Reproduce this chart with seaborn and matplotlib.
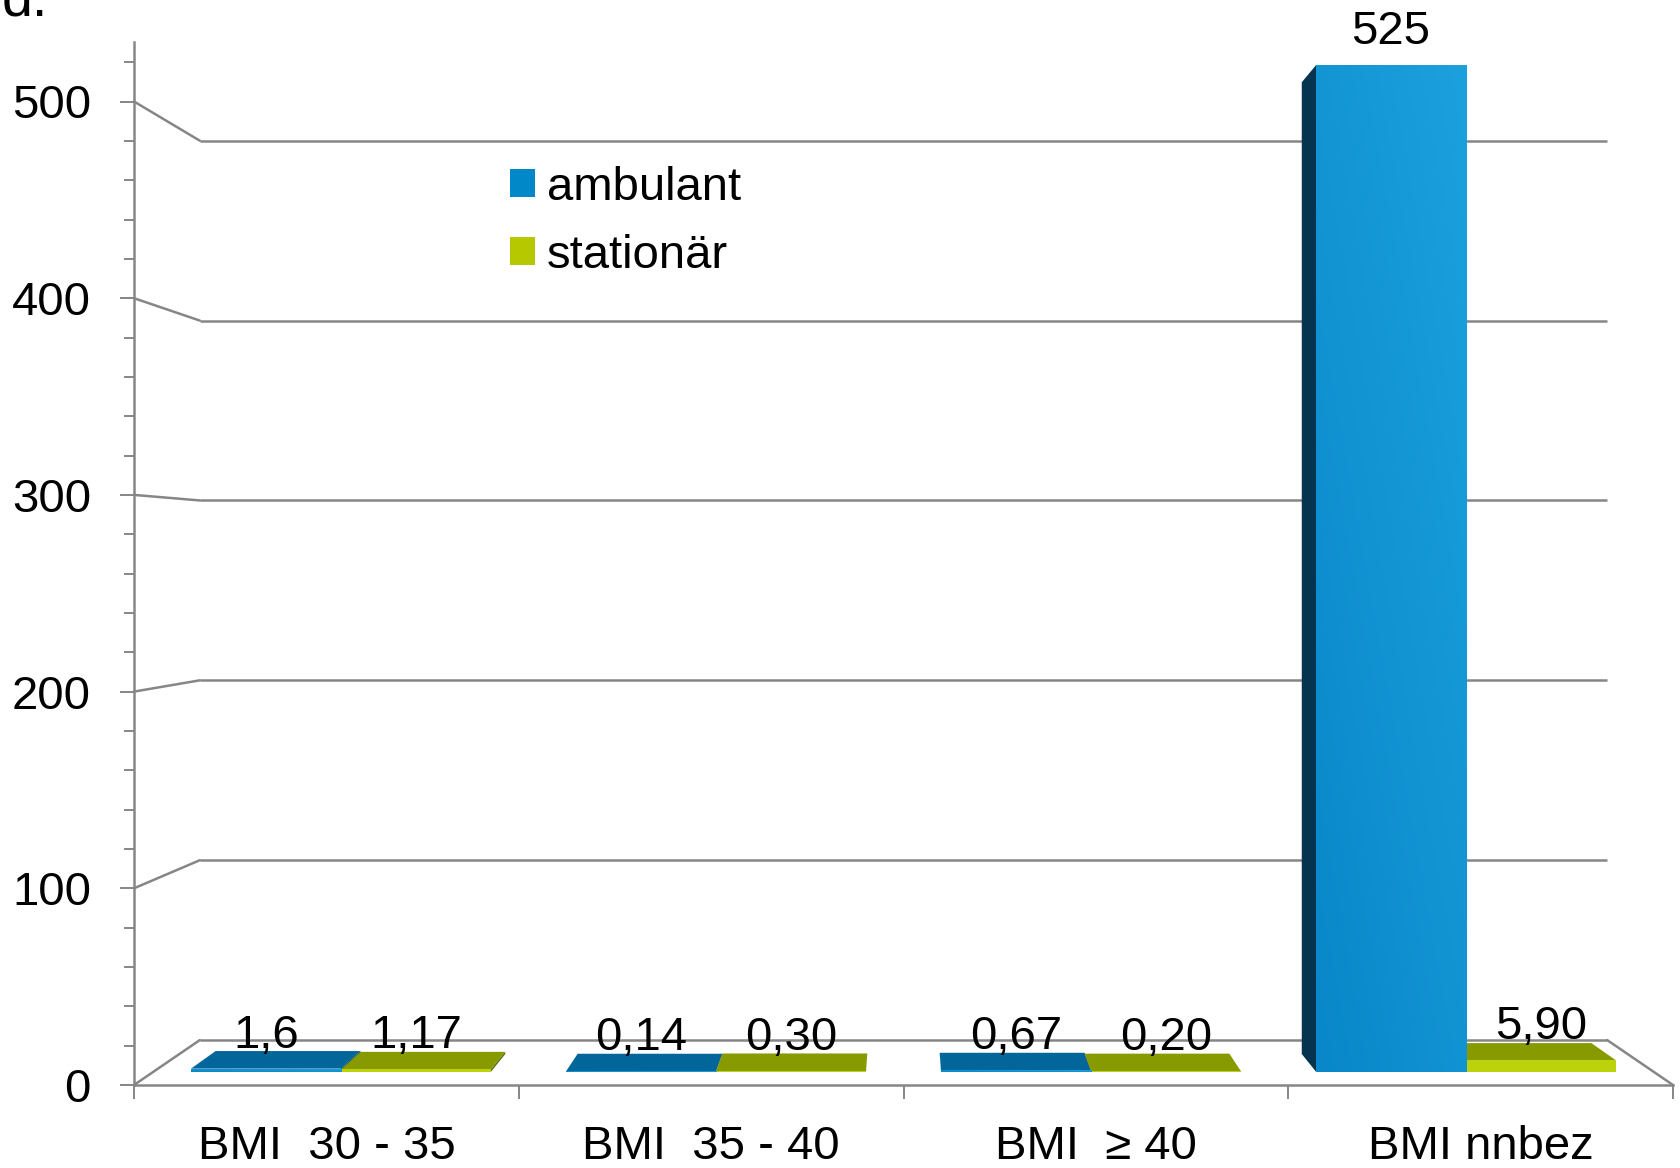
import matplotlib
matplotlib.use("Agg")
import numpy as np
import pandas as pd
import matplotlib.pyplot as plt
from matplotlib.patches import Polygon, Patch
from matplotlib.colors import LinearSegmentedColormap
from matplotlib.ticker import FixedLocator, MultipleLocator
import seaborn as sns

# ---- data -------------------------------------------------------------
categories = ["BMI  30 - 35", "BMI  35 - 40", "BMI  \u2265 40", "BMI nnbez"]
series = ["ambulant", "stationär"]
ambulant = [1.6, 0.14, 0.67, 525]
stationaer = [1.17, 0.30, 0.20, 5.90]
ambulant_text = ["1,6", "0,14", "0,67", "525"]
stationaer_text = ["1,17", "0,30", "0,20", "5,90"]
y_major = [0, 100, 200, 300, 400, 500]

# ---- style ------------------------------------------------------------
sns.set_theme(style="white")
plt.rcParams["font.family"] = ["Liberation Sans", "DejaVu Sans"]
plt.rcParams["text.color"] = "black"

FS = 34
GRID = "#868686"
LW = 1.8
front_colors = {"ambulant": "#1196d6", "stationär": "#bcd20a"}
top_colors = {"ambulant": "#02669a", "stationär": "#879a00"}
side_colors = {"ambulant": "#04344f", "stationär": "#55610a"}
legend_colors = ["#0088c8", "#b5c800"]

W, H = 1680, 1168
fig = plt.figure(figsize=(W / 100, H / 100), dpi=100)
fig.patch.set_facecolor("white")

# ---- front plane of the pseudo-3D chart box ----------------------------
x_lo, x_hi = -0.5, 3.5
y_top = 530
left_px, right_px, base_px, px_per_unit = 134, 1673, 1085, 1.967
ax = fig.add_axes([left_px / W, (H - base_px) / H,
                   (right_px - left_px) / W, y_top * px_per_unit / H])
ax.set_xlim(x_lo, x_hi)
ax.set_ylim(0, y_top)
ax.patch.set_alpha(0)

# vanishing point (data units) and scale at a given depth (0 front, 1 back wall)
vp = (1.5, 267.0)


def depth_scale(d):
    return 1 - 0.0855 * d


def project(x, y, s):
    return vp[0] + (x - vp[0]) * s, vp[1] + (y - vp[1]) * s


# back wall gridlines with their connectors to the value axis
s_wall = depth_scale(1.0)
for v in y_major:
    bx0, by0 = project(x_lo, v, s_wall)
    bx1, by1 = project(x_hi, v, s_wall)
    ax.plot([bx0, bx1], [by0, by1], color=GRID, lw=LW, zorder=1,
            solid_capstyle="butt")
    ax.plot([x_lo, bx0], [v, by0], color=GRID, lw=LW, zorder=1, clip_on=False)
# right edge of the floor
fx, fy = project(x_hi, 0, s_wall)
ax.plot([x_hi, fx], [0, fy], color=GRID, lw=LW, zorder=1, clip_on=False)

# axes styling
for side in ["top", "right"]:
    ax.spines[side].set_visible(False)
for side in ["left", "bottom"]:
    ax.spines[side].set_color(GRID)
    ax.spines[side].set_linewidth(LW)

ax.yaxis.set_major_locator(FixedLocator(y_major))
ax.yaxis.set_minor_locator(MultipleLocator(20))
ax.tick_params(axis="y", which="major", left=True, direction="out", length=10,
               width=1.4, color=GRID, pad=21, labelsize=FS, labelcolor="black")
ax.tick_params(axis="y", which="minor", left=True, direction="out", length=7,
               width=1.4, color=GRID)

ax.set_xticks([-0.5, 0.5, 1.5, 2.5, 3.5])
ax.set_xticklabels([])
ax.set_xticks([0, 1, 2, 3], minor=True)
ax.set_xticklabels(categories, minor=True)
ax.tick_params(axis="x", which="major", bottom=True, direction="out", length=10,
               width=1.4, color=GRID)
ax.tick_params(axis="x", which="minor", bottom=False, length=0, pad=29,
               labelsize=FS, labelcolor="black")

# ---- bars: drawn on an axes that is the front plane scaled to bar depth --
s_front = depth_scale(0.296)
s_back = depth_scale(0.69)
pos = ax.get_position()
vx = pos.x0 + (vp[0] - x_lo) / (x_hi - x_lo) * pos.width
vy = pos.y0 + vp[1] / y_top * pos.height
ax_bar = fig.add_axes([vx + (pos.x0 - vx) * s_front, vy + (pos.y0 - vy) * s_front,
                       pos.width * s_front, pos.height * s_front])

df = pd.DataFrame({
    "category": categories * 2,
    "series": [series[0]] * len(categories) + [series[1]] * len(categories),
    "value": ambulant + stationaer,
})
sns.barplot(data=df, x="category", y="value", hue="series", order=categories,
            hue_order=series, palette=front_colors, width=0.8, saturation=1,
            legend=False, errorbar=None, ax=ax_bar, linewidth=0, zorder=3)
ax_bar.set_xlim(x_lo, x_hi)
ax_bar.set_ylim(0, y_top)
ax_bar.axis("off")

r = s_back / s_front
front_grad = LinearSegmentedColormap.from_list("front", ["#0987c8", "#1ca1de"])
texts = {series[0]: ambulant_text, series[1]: stationaer_text}

for patch in list(ax_bar.patches):
    x0, w, h = patch.get_x(), patch.get_width(), patch.get_height()
    cx = x0 + w / 2
    cat = int(round(cx))
    name = series[0] if cx < cat else series[1]

    # visible side face
    edge = None
    if x0 > vp[0]:
        edge = x0
    elif x0 + w < vp[0]:
        edge = x0 + w
    if edge is not None:
        ex_b, ey_b = project(edge, 0, r)
        ex_t, ey_t = project(edge, h, r)
        ax_bar.add_patch(Polygon([(edge, 0), (edge, h), (ex_t, ey_t), (ex_b, ey_b)],
                                 closed=True, facecolor=side_colors[name],
                                 edgecolor="none", zorder=2))
    # top face (visible when the top lies below eye level)
    if h < vp[1]:
        tl = project(x0, h, r)
        tr = project(x0 + w, h, r)
        ax_bar.add_patch(Polygon([(x0, h), (x0 + w, h), tr, tl], closed=True,
                                 facecolor=top_colors[name], edgecolor="none",
                                 zorder=2))
    # shaded front face for the ambulant series
    if name == series[0] and h > 0:
        gx, gy = np.meshgrid(np.linspace(0, 1, 60), np.linspace(0, 1, 200))
        grad = 0.55 * gy + 0.45 * gx
        im = ax_bar.imshow(grad, extent=[x0, x0 + w, 0, h], origin="lower",
                           aspect="auto", cmap=front_grad, zorder=3.5)
        im.set_clip_path(patch)

    ax_bar.annotate(texts[name][cat], (cx, h), xytext=(0, 15.1),
                    textcoords="offset points", ha="center", va="baseline",
                    fontsize=FS, color="black", annotation_clip=False, zorder=5)

ax_bar.set_xlim(x_lo, x_hi)
ax_bar.set_ylim(0, y_top)

# ---- legend -----------------------------------------------------------
handles = [Patch(facecolor=c, edgecolor="none", label=n)
           for c, n in zip(legend_colors, series)]
fig.legend(handles=handles, loc="upper left", bbox_to_anchor=(510 / W, 1 - 166 / H),
           frameon=False, fontsize=FS, handlelength=0.53, handleheight=0.53,
           handletextpad=0.25, labelspacing=0.51, borderpad=0, borderaxespad=0,
           labelcolor="black")

# panel letter
fig.text(2 / W, 1 - 15 / H, "d.", fontsize=40, va="baseline", ha="left",
         color="black")

fig.savefig("out.png", dpi=100, facecolor="white")
